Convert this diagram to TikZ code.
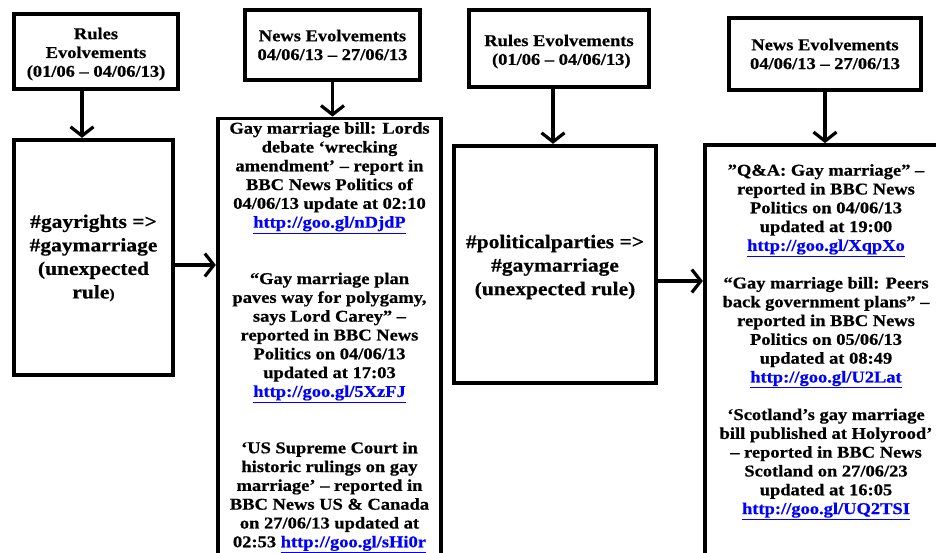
\documentclass[tikz,border=0pt]{standalone}
\usepackage{fontspec}
\setmainfont{Liberation Serif}[FakeStretch=1.12, BoldFeatures={FakeBold=0.6}]
\usetikzlibrary{arrows.meta}
\definecolor{linkblue}{RGB}{0,0,255}
\newcommand{\weblink}[1]{{\color{linkblue}\underline{#1}}}
\begin{document}
\begin{tikzpicture}[x=1pt,y=-1pt,
  box/.style={draw, line width=3.8pt, inner sep=0pt, align=center},
  hdrfont/.style={font=\fontsize{16.5}{18.8}\selectfont\bfseries},
  rulefont/.style={font=\fontsize{19.2}{23.5}\selectfont\bfseries},
  newsfont/.style={font=\fontsize{16.5}{18.8}\selectfont\bfseries},
  txt/.style={inner sep=0pt, align=center, anchor=north},
  arr/.style={line width=3.2pt, -{Straight Barb[length=9pt,width=23pt]}}]
\useasboundingbox (0,0) rectangle (936,552);
\clip (0,0) rectangle (936,552);

% period headers
\node[box, minimum width=164.5pt, minimum height=75.5pt] (R1) at (96,51.5) {};
\node[hdrfont, txt, anchor=center] (R1t) at (96,54)
  {Rules\\Evolvements\\(01/06 – 04/06/13)};
\node[box, hdrfont, minimum width=175.5pt, minimum height=70.5pt] (N1) at (332.5,45)
  {News Evolvements\\04/06/13 – 27/06/13};
\node[box, minimum width=180.5pt, minimum height=77.5pt] (R2) at (559,48.5) {};
\node[hdrfont, txt, anchor=center] (R2t) at (559,51.5)
  {Rules Evolvements\\\ (01/06 – 04/06/13)};
\node[box, hdrfont, minimum width=192.5pt, minimum height=72.5pt] (N2) at (825,54)
  {News Evolvements\\04/06/13 – 27/06/13};

% rule boxes
\node[box, minimum width=159.5pt, minimum height=235.5pt] (B1) at (93.5,257.5) {};
\node[rulefont, txt, anchor=center] (B1t) at (93.5,258)
  {\#gayrights =>\\\#gaymarriage\\(unexpected\\rule{\fontsize{14}{16}\selectfont)}};
\node[box, minimum width=202.5pt, minimum height=237.5pt] (B2) at (555,264.5) {};
\node[rulefont, txt, anchor=center] (B2t) at (555,267)
  {\#politicalparties =>\\\#gaymarriage\\(unexpected rule)};

% news boxes (running past the lower edge)
\node[box, minimum width=223.5pt, minimum height=480pt] (NB1) at (329.5,358.5) {};
\node[newsfont, txt] (NB1t) at (329.5,122)
  {Gay marriage bill: Lords\\debate ‘wrecking\\amendment’ – report in\\BBC News Politics of\\04/06/13 update at 02:10\\\weblink{http://goo.gl/nDjdP}\\[37.6pt]
   “Gay marriage plan\\paves way for polygamy,\\says Lord Carey” –\\reported in BBC News\\Politics on 04/06/13\\updated at 17:03\\\weblink{http://goo.gl/5XzFJ}\\[37.6pt]
   ‘US Supreme Court in\\historic rulings on gay\\marriage’ – reported in\\BBC News US \& Canada\\on 27/06/13 updated at\\02:53 \weblink{http://goo.gl/sHi0r}};
\node[box, minimum width=243.5pt, minimum height=453pt] (NB2) at (826.5,371.5) {};
\node[newsfont, txt] (NB2t) at (826,164)
  {”Q\&A: Gay marriage” –\\reported in BBC News\\Politics on 04/06/13\\updated at 19:00\\\weblink{http://goo.gl/XqpXo}\\[18.8pt]
   “Gay marriage bill: Peers\\back government plans” –\\reported in BBC News\\Politics on 05/06/13\\updated at 08:49\\\weblink{http://goo.gl/U2Lat}\\[18.8pt]
   ‘Scotland’s gay marriage\\bill published at Holyrood’\\– reported in BBC News\\Scotland on 27/06/23\\updated at 16:05\\\weblink{http://goo.gl/UQ2TSI}};

% connectors
\draw[arr] ([xshift=-14pt]R1.south) -- ([xshift=-11.5pt]B1.north);
\draw[arr] (N1.south) -- (N1.south |- NB1.north);
\draw[arr] ([xshift=-6pt]R2.south) -- ([xshift=-2pt]B2.north);
\draw[arr] (N2.south) -- (N2.south |- NB2.north);
\draw[arr] ([yshift=-7.5pt]B1.east) -- ([yshift=-7.5pt]B1.east -| NB1.west);
\draw[arr] ([yshift=-16.5pt]B2.east) -- ([yshift=-16.5pt]B2.east -| NB2.west);
\end{tikzpicture}
\end{document}
